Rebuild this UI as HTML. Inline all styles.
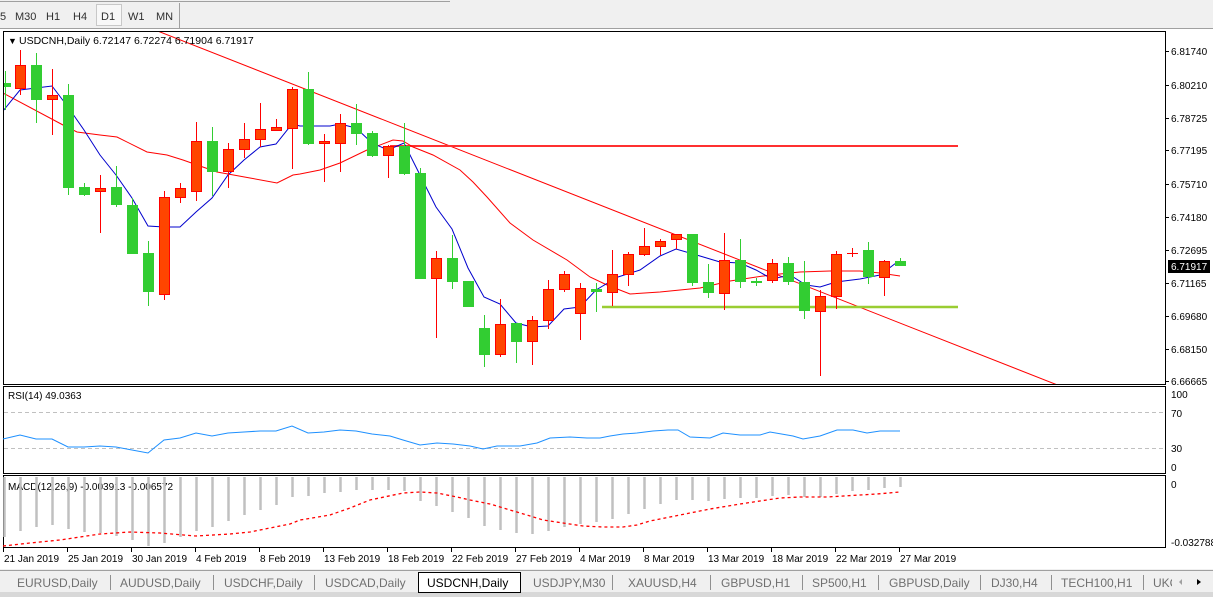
<!DOCTYPE html>
<html><head><meta charset="utf-8"><style>
html,body{margin:0;padding:0;width:1213px;height:597px;overflow:hidden;background:#fff;font-family:"Liberation Sans",sans-serif}
svg{display:block}
text{font-family:"Liberation Sans",sans-serif}
</style></head><body>
<svg width="1213" height="597" viewBox="0 0 1213 597" xmlns="http://www.w3.org/2000/svg">
<rect x="0" y="0" width="1213" height="29" fill="#f0f0f0"/>
<line x1="0" y1="1.5" x2="450" y2="1.5" stroke="#a0a0a0"/>
<line x1="0" y1="28.5" x2="1213" y2="28.5" stroke="#a0a0a0"/>
<rect x="96.5" y="4.5" width="25" height="21" fill="#f8f8f8" stroke="#c8c8c8"/>
<line x1="179.5" y1="3" x2="179.5" y2="28" stroke="#a0a0a0"/>
<g font-size="11" fill="#303030">
<text x="0" y="20">5</text><text x="15" y="20">M30</text><text x="46" y="20">H1</text><text x="73" y="20">H4</text><text x="101" y="20">D1</text><text x="128" y="20">W1</text><text x="156" y="20">MN</text>
</g>
<rect x="0" y="29" width="1213" height="541" fill="#fff"/>
<rect x="3.5" y="31.5" width="1162" height="353" fill="none" stroke="#000"/>
<rect x="3.5" y="386.5" width="1162" height="87" fill="none" stroke="#000"/>
<rect x="3.5" y="475.5" width="1162" height="72" fill="none" stroke="#000"/>
<defs><clipPath id="cm"><rect x="4" y="32" width="1161" height="352"/></clipPath></defs>
<g clip-path="url(#cm)">
<line x1="0" y1="-31" x2="1060" y2="386" stroke="#ff0000" stroke-width="1"/>
<line x1="390" y1="146" x2="958" y2="146" stroke="#ff3030" stroke-width="2"/>
<line x1="602" y1="307" x2="958" y2="307" stroke="#9acd32" stroke-width="2.5"/>
<polyline fill="none" stroke="#ff0000" stroke-width="1" points="3,93 63,125 77,132 100,135 117,137 147,152 167,155 183,160 217,172 250,178 277,183 293,175 300,174 320,170 340,163 367,150 393,140 403,141 413,147 433,155 460,170 473,182 487,197 510,223 533,240 567,260 590,277 607,285 630,294 660,292 700,288 730,281 770,275 800,272 830,271 860,271 880,273 900,276"/>
<polyline fill="none" stroke="#0000cd" stroke-width="1" points="3,111 20,90 36,88 52,86 68,107 84,130 100,155 116,175 132,198 148,226 164,227 180,227 196,212 212,198 228,175 244,160 260,147 276,144 292,124 300,126 330,126 340,124 356,128 372,143 388,150 404,143 420,175 436,207 452,229 468,268 484,297 500,304 516,323 532,327 548,326 564,309 580,307 596,290 618,277 640,270 660,256 676,249 700,256 720,262 740,263 756,270 772,279 790,275 806,285 820,287 836,282 860,279 880,275 896,263"/>
<g stroke-width="1">
<line x1="5.5" y1="71" x2="5.5" y2="110" stroke="#32cd32"/><rect x="0" y="83" width="11" height="4" fill="#32cd32"/>
<line x1="20.5" y1="50" x2="20.5" y2="95" stroke="#f00"/><rect x="15.5" y="65.5" width="10" height="23" fill="#ff4500" stroke="#f00"/>
<line x1="36.5" y1="53" x2="36.5" y2="123" stroke="#32cd32"/><rect x="31" y="65" width="11" height="35" fill="#32cd32"/>
<line x1="52.5" y1="69" x2="52.5" y2="135" stroke="#f00"/><rect x="47.5" y="95.5" width="10" height="4" fill="#ff4500" stroke="#f00"/>
<line x1="68.5" y1="84" x2="68.5" y2="195" stroke="#32cd32"/><rect x="63" y="95" width="11" height="93" fill="#32cd32"/>
<line x1="84.5" y1="183" x2="84.5" y2="196" stroke="#32cd32"/><rect x="79" y="187" width="11" height="8" fill="#32cd32"/>
<line x1="100.5" y1="175" x2="100.5" y2="233" stroke="#f00"/><rect x="95.5" y="188.5" width="10" height="3" fill="#ff4500" stroke="#f00"/>
<line x1="116.5" y1="166" x2="116.5" y2="207" stroke="#32cd32"/><rect x="111" y="187" width="11" height="18" fill="#32cd32"/>
<line x1="132.5" y1="198" x2="132.5" y2="254" stroke="#32cd32"/><rect x="127" y="205" width="11" height="49" fill="#32cd32"/>
<line x1="148.5" y1="241" x2="148.5" y2="306" stroke="#32cd32"/><rect x="143" y="253" width="11" height="39" fill="#32cd32"/>
<line x1="164.5" y1="191" x2="164.5" y2="300" stroke="#f00"/><rect x="159.5" y="197.5" width="10" height="97" fill="#ff4500" stroke="#f00"/>
<line x1="180.5" y1="183" x2="180.5" y2="203" stroke="#f00"/><rect x="175.5" y="188.5" width="10" height="9" fill="#ff4500" stroke="#f00"/>
<line x1="196.5" y1="122" x2="196.5" y2="201" stroke="#f00"/><rect x="191.5" y="141.5" width="10" height="50" fill="#ff4500" stroke="#f00"/>
<line x1="212.5" y1="127" x2="212.5" y2="196" stroke="#32cd32"/><rect x="207" y="141" width="11" height="31" fill="#32cd32"/>
<line x1="228.5" y1="143" x2="228.5" y2="188" stroke="#f00"/><rect x="223.5" y="149.5" width="10" height="22" fill="#ff4500" stroke="#f00"/>
<line x1="244.5" y1="123" x2="244.5" y2="158" stroke="#f00"/><rect x="239.5" y="139.5" width="10" height="10" fill="#ff4500" stroke="#f00"/>
<line x1="260.5" y1="103" x2="260.5" y2="147" stroke="#f00"/><rect x="255.5" y="129.5" width="10" height="10" fill="#ff4500" stroke="#f00"/>
<line x1="276.5" y1="119" x2="276.5" y2="131" stroke="#f00"/><rect x="271.5" y="127.5" width="10" height="3" fill="#ff4500" stroke="#f00"/>
<line x1="292.5" y1="87" x2="292.5" y2="169" stroke="#f00"/><rect x="287.5" y="89.5" width="10" height="39" fill="#ff4500" stroke="#f00"/>
<line x1="308.5" y1="72" x2="308.5" y2="145" stroke="#32cd32"/><rect x="303" y="89" width="11" height="55" fill="#32cd32"/>
<line x1="324.5" y1="134" x2="324.5" y2="182" stroke="#f00"/><rect x="319.5" y="141.5" width="10" height="2" fill="#ff4500" stroke="#f00"/>
<line x1="340.5" y1="114" x2="340.5" y2="172" stroke="#f00"/><rect x="335.5" y="123.5" width="10" height="20" fill="#ff4500" stroke="#f00"/>
<line x1="356.5" y1="104" x2="356.5" y2="145" stroke="#32cd32"/><rect x="351" y="123" width="11" height="11" fill="#32cd32"/>
<line x1="372.5" y1="131" x2="372.5" y2="157" stroke="#32cd32"/><rect x="367" y="133" width="11" height="23" fill="#32cd32"/>
<line x1="388.5" y1="145" x2="388.5" y2="178" stroke="#f00"/><rect x="383.5" y="146.5" width="10" height="9" fill="#ff4500" stroke="#f00"/>
<line x1="404.5" y1="123" x2="404.5" y2="175" stroke="#32cd32"/><rect x="399" y="146" width="11" height="28" fill="#32cd32"/>
<line x1="420.5" y1="168" x2="420.5" y2="279" stroke="#32cd32"/><rect x="415" y="173" width="11" height="106" fill="#32cd32"/>
<line x1="436.5" y1="251" x2="436.5" y2="338" stroke="#f00"/><rect x="431.5" y="258.5" width="10" height="20" fill="#ff4500" stroke="#f00"/>
<line x1="452.5" y1="235" x2="452.5" y2="289" stroke="#32cd32"/><rect x="447" y="258" width="11" height="24" fill="#32cd32"/>
<rect x="463" y="281" width="11" height="26" fill="#32cd32"/>
<line x1="484.5" y1="315" x2="484.5" y2="367" stroke="#32cd32"/><rect x="479" y="328" width="11" height="27" fill="#32cd32"/>
<line x1="500.5" y1="299" x2="500.5" y2="357" stroke="#f00"/><rect x="495.5" y="324.5" width="10" height="30" fill="#ff4500" stroke="#f00"/>
<line x1="516.5" y1="323" x2="516.5" y2="363" stroke="#32cd32"/><rect x="511" y="323" width="11" height="19" fill="#32cd32"/>
<line x1="532.5" y1="316" x2="532.5" y2="365" stroke="#f00"/><rect x="527.5" y="320.5" width="10" height="21" fill="#ff4500" stroke="#f00"/>
<line x1="548.5" y1="280" x2="548.5" y2="329" stroke="#f00"/><rect x="543.5" y="289.5" width="10" height="31" fill="#ff4500" stroke="#f00"/>
<line x1="564.5" y1="271" x2="564.5" y2="292" stroke="#f00"/><rect x="559.5" y="274.5" width="10" height="15" fill="#ff4500" stroke="#f00"/>
<line x1="580.5" y1="283" x2="580.5" y2="340" stroke="#f00"/><rect x="575.5" y="288.5" width="10" height="25" fill="#ff4500" stroke="#f00"/>
<line x1="596.5" y1="283" x2="596.5" y2="312" stroke="#32cd32"/><rect x="591" y="289" width="11" height="3" fill="#32cd32"/>
<line x1="612.5" y1="250" x2="612.5" y2="306" stroke="#f00"/><rect x="607.5" y="274.5" width="10" height="18" fill="#ff4500" stroke="#f00"/>
<line x1="628.5" y1="252" x2="628.5" y2="286" stroke="#f00"/><rect x="623.5" y="254.5" width="10" height="20" fill="#ff4500" stroke="#f00"/>
<line x1="644.5" y1="228" x2="644.5" y2="256" stroke="#f00"/><rect x="639.5" y="246.5" width="10" height="8" fill="#ff4500" stroke="#f00"/>
<line x1="660.5" y1="239" x2="660.5" y2="255" stroke="#f00"/><rect x="655.5" y="241.5" width="10" height="5" fill="#ff4500" stroke="#f00"/>
<line x1="676.5" y1="234" x2="676.5" y2="249" stroke="#f00"/><rect x="671.5" y="234.5" width="10" height="5" fill="#ff4500" stroke="#f00"/>
<line x1="692.5" y1="234" x2="692.5" y2="286" stroke="#32cd32"/><rect x="687" y="234" width="11" height="49" fill="#32cd32"/>
<line x1="708.5" y1="264" x2="708.5" y2="298" stroke="#32cd32"/><rect x="703" y="282" width="11" height="11" fill="#32cd32"/>
<line x1="724.5" y1="233" x2="724.5" y2="310" stroke="#f00"/><rect x="719.5" y="260.5" width="10" height="33" fill="#ff4500" stroke="#f00"/>
<line x1="740.5" y1="239" x2="740.5" y2="288" stroke="#32cd32"/><rect x="735" y="260" width="11" height="22" fill="#32cd32"/>
<line x1="756.5" y1="278" x2="756.5" y2="286" stroke="#32cd32"/><rect x="751" y="281" width="11" height="2" fill="#32cd32"/>
<line x1="772.5" y1="259" x2="772.5" y2="283" stroke="#f00"/><rect x="767.5" y="263.5" width="10" height="17" fill="#ff4500" stroke="#f00"/>
<line x1="788.5" y1="257" x2="788.5" y2="285" stroke="#32cd32"/><rect x="783" y="263" width="11" height="19" fill="#32cd32"/>
<line x1="804.5" y1="261" x2="804.5" y2="319" stroke="#32cd32"/><rect x="799" y="282" width="11" height="29" fill="#32cd32"/>
<line x1="820.5" y1="290" x2="820.5" y2="376" stroke="#f00"/><rect x="815.5" y="296.5" width="10" height="15" fill="#ff4500" stroke="#f00"/>
<line x1="836.5" y1="251" x2="836.5" y2="309" stroke="#f00"/><rect x="831.5" y="254.5" width="10" height="42" fill="#ff4500" stroke="#f00"/>
<line x1="852.5" y1="248" x2="852.5" y2="257" stroke="#f00"/><line x1="847" y1="253.5" x2="858" y2="253.5" stroke="#f00"/>
<line x1="868.5" y1="242" x2="868.5" y2="284" stroke="#32cd32"/><rect x="863" y="250" width="11" height="27" fill="#32cd32"/>
<line x1="884.5" y1="260" x2="884.5" y2="296" stroke="#f00"/><rect x="879.5" y="261.5" width="10" height="16" fill="#ff4500" stroke="#f00"/>
<line x1="900.5" y1="258" x2="900.5" y2="266" stroke="#32cd32"/><rect x="895" y="261" width="11" height="5" fill="#32cd32"/>
</g>
</g>
<text x="8" y="44" font-size="9">▼</text>
<text x="19" y="44" font-size="10.5" fill="#000">USDCNH,Daily  6.72147 6.72274 6.71904 6.71917</text>
<g font-size="10" fill="#000">
<g stroke="#000"><line x1="1166" y1="51.5" x2="1169" y2="51.5"/><line x1="1166" y1="85.5" x2="1169" y2="85.5"/><line x1="1166" y1="118.5" x2="1169" y2="118.5"/><line x1="1166" y1="150.5" x2="1169" y2="150.5"/><line x1="1166" y1="184.5" x2="1169" y2="184.5"/><line x1="1166" y1="217.5" x2="1169" y2="217.5"/><line x1="1166" y1="250.5" x2="1169" y2="250.5"/><line x1="1166" y1="283.5" x2="1169" y2="283.5"/><line x1="1166" y1="316.5" x2="1169" y2="316.5"/><line x1="1166" y1="349.5" x2="1169" y2="349.5"/><line x1="1166" y1="381.5" x2="1169" y2="381.5"/></g>
<text x="1171" y="55">6.81740</text><text x="1171" y="89">6.80210</text><text x="1171" y="122">6.78725</text><text x="1171" y="154">6.77195</text><text x="1171" y="188">6.75710</text><text x="1171" y="221">6.74180</text><text x="1171" y="254">6.72695</text><text x="1171" y="287">6.71165</text><text x="1171" y="320">6.69680</text><text x="1171" y="353">6.68150</text><text x="1171" y="385">6.66665</text>
<rect x="1168" y="260" width="42" height="13" fill="#000"/><text x="1171" y="270" fill="#fff">6.71917</text>
<text x="1171" y="398">100</text><text x="1171" y="417">70</text><text x="1171" y="452">30</text><text x="1171" y="471">0</text>
<text x="1171" y="488">0</text><text x="1171" y="546">-0.032788</text>
</g>
<line x1="4" y1="412.5" x2="1165" y2="412.5" stroke="#c0c0c0" stroke-dasharray="4,3"/>
<line x1="4" y1="448.5" x2="1165" y2="448.5" stroke="#c0c0c0" stroke-dasharray="4,3"/>
<text x="8" y="399" font-size="10">RSI(14) 49.0363</text>
<polyline fill="none" stroke="#1e90ff" stroke-width="1" points="3,439 20,435 36,439 52,439 68,447 84,447 100,446 116,447 132,450 148,453 164,440 180,438 196,433 212,436 228,433 244,432 260,431 276,431 292,426 308,433 324,432 340,430 356,431 372,434 390,436 403,440 420,445 437,443 453,444 470,446 483,449 497,446 520,446 537,443 550,438 570,437 587,438 600,438 610,436 623,434 637,433 653,431 668,430 678,430 690,437 710,438 723,433 740,435 760,435 770,432 793,436 803,439 820,436 837,430 853,430 867,433 880,431 900,431"/>
<text x="8" y="490" font-size="10">MACD(12,26,9) -0.003913 -0.006572</text>
<g stroke="#c0c0c0" stroke-width="2.5">
<line x1="4.5" y1="477" x2="4.5" y2="537"/><line x1="20.5" y1="477" x2="20.5" y2="531"/><line x1="36.5" y1="477" x2="36.5" y2="527"/><line x1="52.5" y1="477" x2="52.5" y2="525"/><line x1="68.5" y1="477" x2="68.5" y2="529"/><line x1="84.5" y1="477" x2="84.5" y2="532"/><line x1="100.5" y1="477" x2="100.5" y2="533"/><line x1="116.5" y1="477" x2="116.5" y2="536"/><line x1="132.5" y1="477" x2="132.5" y2="540"/><line x1="148.5" y1="477" x2="148.5" y2="546"/><line x1="164.5" y1="477" x2="164.5" y2="543"/><line x1="180.5" y1="477" x2="180.5" y2="537"/><line x1="196.5" y1="477" x2="196.5" y2="531"/><line x1="212.5" y1="477" x2="212.5" y2="527"/><line x1="228.5" y1="477" x2="228.5" y2="521"/><line x1="244.5" y1="477" x2="244.5" y2="515"/><line x1="260.5" y1="477" x2="260.5" y2="510"/><line x1="276.5" y1="477" x2="276.5" y2="505"/><line x1="292.5" y1="477" x2="292.5" y2="497"/><line x1="308.5" y1="477" x2="308.5" y2="496"/><line x1="324.5" y1="477" x2="324.5" y2="493"/><line x1="340.5" y1="477" x2="340.5" y2="492"/><line x1="356.5" y1="477" x2="356.5" y2="490"/><line x1="372.5" y1="477" x2="372.5" y2="490"/><line x1="388.5" y1="477" x2="388.5" y2="490"/><line x1="404.5" y1="477" x2="404.5" y2="491"/><line x1="420.5" y1="477" x2="420.5" y2="501"/><line x1="436.5" y1="477" x2="436.5" y2="506"/><line x1="452.5" y1="477" x2="452.5" y2="512"/><line x1="468.5" y1="477" x2="468.5" y2="518"/><line x1="484.5" y1="477" x2="484.5" y2="526"/><line x1="500.5" y1="477" x2="500.5" y2="530"/><line x1="516.5" y1="477" x2="516.5" y2="533"/><line x1="532.5" y1="477" x2="532.5" y2="534"/><line x1="548.5" y1="477" x2="548.5" y2="531"/><line x1="564.5" y1="477" x2="564.5" y2="527"/><line x1="580.5" y1="477" x2="580.5" y2="524"/><line x1="596.5" y1="477" x2="596.5" y2="522"/><line x1="612.5" y1="477" x2="612.5" y2="519"/><line x1="628.5" y1="477" x2="628.5" y2="514"/><line x1="644.5" y1="477" x2="644.5" y2="509"/><line x1="660.5" y1="477" x2="660.5" y2="504"/><line x1="676.5" y1="477" x2="676.5" y2="500"/><line x1="692.5" y1="477" x2="692.5" y2="500"/><line x1="708.5" y1="477" x2="708.5" y2="501"/><line x1="724.5" y1="477" x2="724.5" y2="499"/><line x1="740.5" y1="477" x2="740.5" y2="498"/><line x1="756.5" y1="477" x2="756.5" y2="498"/><line x1="772.5" y1="477" x2="772.5" y2="496"/><line x1="788.5" y1="477" x2="788.5" y2="495"/><line x1="804.5" y1="477" x2="804.5" y2="497"/><line x1="820.5" y1="477" x2="820.5" y2="497"/><line x1="836.5" y1="477" x2="836.5" y2="494"/><line x1="852.5" y1="477" x2="852.5" y2="491"/><line x1="868.5" y1="477" x2="868.5" y2="490"/><line x1="884.5" y1="477" x2="884.5" y2="488"/><line x1="900.5" y1="477" x2="900.5" y2="487"/>
</g>
<polyline fill="none" stroke="#ff0000" stroke-width="1.3" stroke-dasharray="3,3" points="3,546 30,543 60,540 100,534 130,532 160,533 196,536 230,534 250,532 270,528 290,524 300,520 330,515 350,508 370,500 403,493 420,492 437,493 457,497 470,500 490,504 510,510 527,515 543,520 563,523 583,526 603,527 623,527 637,525 650,521 660,519 690,513 710,509 740,504 760,501 780,498 800,497 827,497 860,495 877,494 900,492"/>
<g stroke="#000"><line x1="3.5" y1="548" x2="3.5" y2="552"/><line x1="67.5" y1="548" x2="67.5" y2="552"/><line x1="131.5" y1="548" x2="131.5" y2="552"/><line x1="195.5" y1="548" x2="195.5" y2="552"/><line x1="259.5" y1="548" x2="259.5" y2="552"/><line x1="323.5" y1="548" x2="323.5" y2="552"/><line x1="387.5" y1="548" x2="387.5" y2="552"/><line x1="451.5" y1="548" x2="451.5" y2="552"/><line x1="515.5" y1="548" x2="515.5" y2="552"/><line x1="579.5" y1="548" x2="579.5" y2="552"/><line x1="643.5" y1="548" x2="643.5" y2="552"/><line x1="707.5" y1="548" x2="707.5" y2="552"/><line x1="771.5" y1="548" x2="771.5" y2="552"/><line x1="835.5" y1="548" x2="835.5" y2="552"/><line x1="899.5" y1="548" x2="899.5" y2="552"/></g>
<g font-size="10" fill="#000">
<text x="4" y="562">21 Jan 2019</text><text x="68" y="562">25 Jan 2019</text><text x="132" y="562">30 Jan 2019</text><text x="196" y="562">4 Feb 2019</text><text x="260" y="562">8 Feb 2019</text><text x="324" y="562">13 Feb 2019</text><text x="388" y="562">18 Feb 2019</text><text x="452" y="562">22 Feb 2019</text><text x="516" y="562">27 Feb 2019</text><text x="580" y="562">4 Mar 2019</text><text x="644" y="562">8 Mar 2019</text><text x="708" y="562">13 Mar 2019</text><text x="772" y="562">18 Mar 2019</text><text x="836" y="562">22 Mar 2019</text><text x="900" y="562">27 Mar 2019</text>
</g>
<rect x="0" y="569" width="1213" height="28" fill="#f0f0f0"/>
<line x1="0" y1="570.5" x2="1213" y2="570.5" stroke="#a0a0a0"/>
<rect x="0" y="592" width="1213" height="5" fill="#d8d8d8"/>
<rect x="418.5" y="572.5" width="102" height="20" fill="#fff" stroke="#000"/>
<g font-size="12" fill="#707070">
<text x="17" y="587">EURUSD,Daily</text><text x="120" y="587">AUDUSD,Daily</text><text x="224" y="587">USDCHF,Daily</text><text x="325" y="587">USDCAD,Daily</text>
<text x="427" y="587" fill="#000">USDCNH,Daily</text>
<text x="533" y="587">USDJPY,M30</text><text x="628" y="587">XAUUSD,H4</text><text x="721" y="587">GBPUSD,H1</text><text x="812" y="587">SP500,H1</text><text x="889" y="587">GBPUSD,Daily</text><text x="991" y="587">DJ30,H4</text><text x="1061" y="587">TECH100,H1</text><text x="1153" y="587">UKC</text>
</g>
<g stroke="#909090"><line x1="110.5" y1="575" x2="110.5" y2="590"/><line x1="213.5" y1="575" x2="213.5" y2="590"/><line x1="314.5" y1="575" x2="314.5" y2="590"/><line x1="612.5" y1="575" x2="612.5" y2="590"/><line x1="710.5" y1="575" x2="710.5" y2="590"/><line x1="802.5" y1="575" x2="802.5" y2="590"/><line x1="878.5" y1="575" x2="878.5" y2="590"/><line x1="980.5" y1="575" x2="980.5" y2="590"/><line x1="1051.5" y1="575" x2="1051.5" y2="590"/><line x1="1143.5" y1="575" x2="1143.5" y2="590"/></g>
<rect x="1172" y="572" width="41" height="20" fill="#f0f0f0"/>
<polygon points="1182,579 1179,582 1182,585" fill="#a0a0a0"/>
<polygon points="1197,579 1201,582 1197,585" fill="#000"/>
</svg>
</body></html>
